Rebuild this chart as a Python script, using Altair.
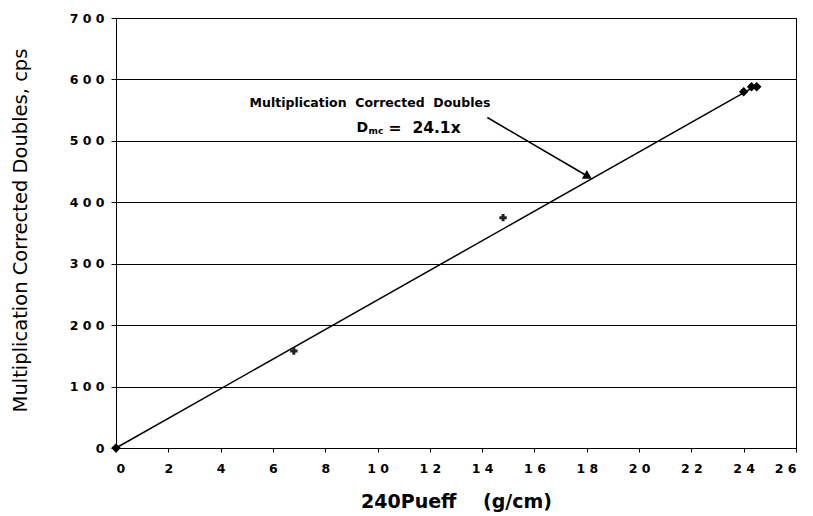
import altair as alt
import pandas as pd

# Fit line endpoints
line_x = [0.0, 24.4]
line_y = [0.0, 588.0]

# Measured points
cross_x = [6.8, 14.8]
cross_y = [158, 375]
diamond_x = [0.0, 24.0, 24.3, 24.5]
diamond_y = [0, 580, 588, 588]

x_ticks = list(range(0, 27, 2))
y_ticks = list(range(0, 701, 100))

# Annotation (data coordinates)
ann_title = "Multiplication\u00a0\u00a0Corrected\u00a0\u00a0Doubles"
ann_title_x = [9.71]
ann_title_y = [562]
ann_eq_x = [9.2]
ann_eq_y = [521]
arrow_x = [14.2]
arrow_y = [538]
arrow_x2 = [18.05]
arrow_y2 = [442]

BOLD = "DejaVu Sans"
REG = "DejaVu Sans"

xs = alt.Scale(domain=[0, 26], nice=False, zero=False)
ys = alt.Scale(domain=[0, 700], nice=False, zero=False)

x_axis = alt.Axis(
    values=x_ticks, grid=False, title="240Pueff\u00a0\u00a0\u00a0\u00a0(g/cm)",
    labelExpr="join(split(datum.label, ''), ' ')",
    labelFont=BOLD, labelFontWeight="bold", labelFontSize=12.5, labelColor="black",
    labelPadding=10, tickSize=4, tickColor="black", domainColor="black",
    titleFont=BOLD, titleFontWeight="bold", titleFontSize=19, titleColor="black",
    titleY=53, titleBaseline="middle",
)
y_axis = alt.Axis(
    values=y_ticks, grid=True, gridColor="black", gridWidth=1, gridOpacity=1,
    title="Multiplication Corrected Doubles, cps",
    labelExpr="join(split(datum.label, ''), ' ')",
    labelFont=BOLD, labelFontWeight="bold", labelFontSize=12.5, labelColor="black",
    labelPadding=7, tickSize=5, tickColor="black", domainColor="black",
    titleFont=REG, titleFontWeight="normal", titleFontSize=19.5, titleColor="black",
    titleX=-96, titleY=212, titleBaseline="middle",
)

df_line = pd.DataFrame({"x": line_x, "y": line_y})
df_cross = pd.DataFrame({"x": cross_x, "y": cross_y})
df_dia = pd.DataFrame({"x": diamond_x, "y": diamond_y})

base_line = alt.Chart(df_line).mark_line(color="black", strokeWidth=1.5).encode(
    x=alt.X("x:Q", scale=xs, axis=x_axis),
    y=alt.Y("y:Q", scale=ys, axis=y_axis),
)

crosses = alt.Chart(df_cross).mark_point(
    shape="cross", filled=True, color="#222222", size=55, opacity=1
).encode(x=alt.X("x:Q", scale=xs), y=alt.Y("y:Q", scale=ys))

diamonds = alt.Chart(df_dia).mark_point(
    shape="diamond", filled=True, color="black", size=90, opacity=1
).encode(x=alt.X("x:Q", scale=xs), y=alt.Y("y:Q", scale=ys))

df_arrow = pd.DataFrame({"x": arrow_x, "y": arrow_y, "x2": arrow_x2, "y2": arrow_y2})
arrow = alt.Chart(df_arrow).mark_rule(color="black", strokeWidth=1.5).encode(
    x=alt.X("x:Q", scale=xs), y=alt.Y("y:Q", scale=ys), x2="x2:Q", y2="y2:Q"
)
arrow_head = alt.Chart(df_arrow).mark_point(
    shape="triangle-right", filled=True, color="black", size=100, angle=30, opacity=1
).encode(x=alt.X("x2:Q", scale=xs), y=alt.Y("y2:Q", scale=ys))

df_t1 = pd.DataFrame({"x": ann_title_x, "y": ann_title_y, "t": [ann_title]})
t1 = alt.Chart(df_t1).mark_text(
    font=BOLD, fontWeight="bold", fontSize=12.5, color="black", align="center", baseline="middle"
).encode(x=alt.X("x:Q", scale=xs), y=alt.Y("y:Q", scale=ys), text="t:N")

df_eq = pd.DataFrame({"x": ann_eq_x, "y": ann_eq_y, "d": ["D"], "s": ["mc"],
                      "e": ["=\u00a0\u00a024.1x"]})
eq_d = alt.Chart(df_eq).mark_text(
    font=BOLD, fontWeight="bold", fontSize=14, color="black", align="left", baseline="middle"
).encode(x=alt.X("x:Q", scale=xs), y=alt.Y("y:Q", scale=ys), text="d:N")
eq_s = alt.Chart(df_eq).mark_text(
    font=BOLD, fontWeight="bold", fontSize=9, color="black", align="left", baseline="middle",
    dx=12, dy=3,
).encode(x=alt.X("x:Q", scale=xs), y=alt.Y("y:Q", scale=ys), text="s:N")
eq_e = alt.Chart(df_eq).mark_text(
    font=BOLD, fontWeight="bold", fontSize=15.5, color="black", align="left", baseline="middle",
    dx=32,
).encode(x=alt.X("x:Q", scale=xs), y=alt.Y("y:Q", scale=ys), text="e:N")

chart = alt.layer(
    base_line, arrow, arrow_head, crosses, diamonds, t1, eq_d, eq_s, eq_e
).properties(
    width=680, height=430,
    autosize=alt.AutoSizeParams(type="none"),
    padding={"left": 116, "top": 18, "right": 17, "bottom": 68},
    background="white",
).configure_view(stroke="black", strokeWidth=1)

chart.save("out.html", embed_options={"renderer": "svg", "actions": False})
